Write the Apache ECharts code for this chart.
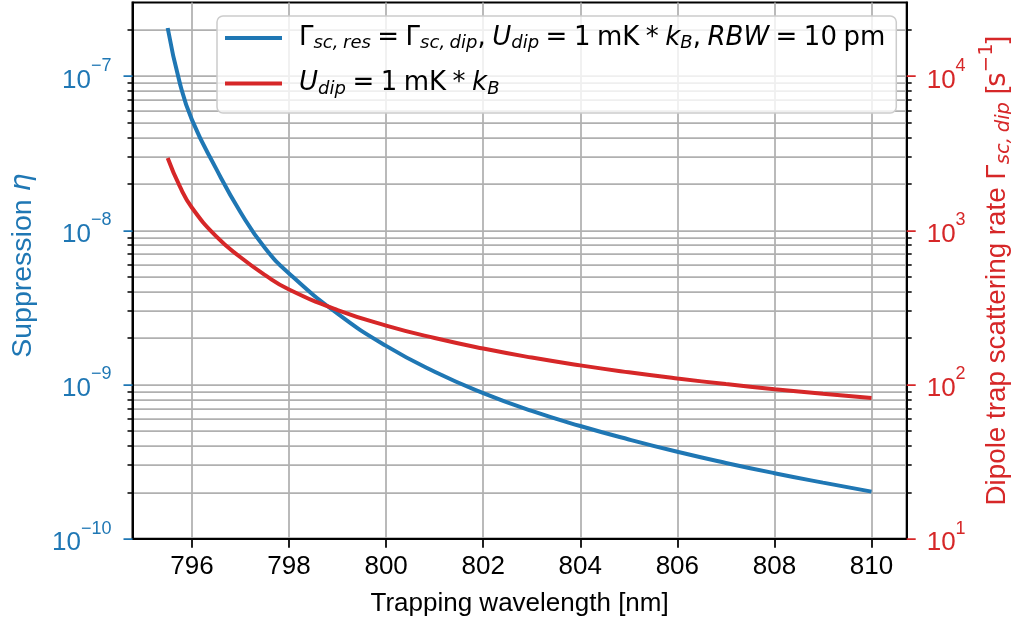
<!DOCTYPE html>
<html>
<head>
<meta charset="utf-8">
<script src="https://cdn.jsdelivr.net/npm/echarts@6/dist/echarts.min.js"></script>
<style>
  html, body { margin: 0; padding: 0; background: #ffffff; }
  #chart { width: 1011px; height: 624px; }
</style>
</head>
<body>
<div id="chart"></div>
<script>
// Trapping wavelength [nm]
const wavelength = [795.5, 795.75, 796, 796.5, 797, 797.5, 798, 799, 800, 801, 802, 803, 804, 805, 806, 807, 808, 809, 810];
// Suppression eta (left axis)
const suppression = [2.05e-7, 9.0e-8, 5.2e-8, 2.5e-8, 1.31e-8, 7.7e-9, 5.25e-9, 2.88e-9, 1.78e-9, 1.21e-9, 8.8e-10, 6.74e-10, 5.38e-10, 4.40e-10, 3.66e-10, 3.10e-10, 2.66e-10, 2.31e-10, 2.02e-10];
// Dipole trap scattering rate [1/s] (right axis)
const scatterRate = [2940, 1923, 1400, 912, 668, 514, 413, 304, 241, 200, 171, 149.5, 133, 120, 109.4, 100.6, 93.2, 87.0, 81.7];

const xTicks = [796, 798, 800, 802, 804, 806, 808, 810];
const leftDecades = [1e-10, 1e-9, 1e-8, 1e-7];
const rightDecades = [1e1, 1e2, 1e3, 1e4];
const seriesNames = ['suppression', 'rate'];

const BLUE = '#1f77b4';
const RED = '#d62728';
const GRID = '#b0b0b0';
const SANS = 'Liberation Sans';
const MATH = 'DejaVu Sans';

const X_MIN = 794.775, X_MAX = 810.725;
const L_MIN = 1e-10, L_MAX = 3e-7;
const R_MIN = 1e1, R_MAX = 3e4;

// minor log ticks 2..9 within each decade
function minorValues(decades, max) {
  const out = [];
  decades.forEach(d => {
    for (let m = 2; m <= 9; m++) {
      const v = m * d;
      if (v < max * 0.99) out.push(v);
    }
  });
  return out;
}
const nudge = arr => arr.map(v => v * 1.0000001);

function powLabel(v) {
  const e = Math.round(Math.log10(v));
  const s = e < 0 ? '\u2212' + (-e) : String(e);
  return '{b|10}{s|' + s + '}';
}
function powRich(color) {
  return {
    b: { fontFamily: SANS, fontSize: 26, color: color, padding: [9, 0, 0, 0] },
    s: { fontFamily: SANS, fontSize: 18, color: color, padding: [0, 0, 20, 0] }
  };
}

// math spacing
const SP = '\u2005';
const legendText = {
  suppression: '{sp| }{r|\u0393}{sub|sc,' + SP + 'res}{r|' + SP + '=' + SP + '\u0393}{sub|sc,' + SP + 'dip}{r|,' + SP + '}{i|U}{sub|dip}{r|' + SP + '=' + SP + '1' + SP + 'mK' + SP + '*' + SP + '}{i|k}{sub|B}{r|,' + SP + '}{i|RBW}{r|' + SP + '=' + SP + '10' + SP + 'pm}',
  rate: '{sp| }{i|U}{sub|dip}{r|' + SP + '=' + SP + '1' + SP + 'mK' + SP + '*' + SP + '}{i|k}{sub|B}'
};

const chart = echarts.init(document.getElementById('chart'), null, { renderer: 'canvas' });

const tickStyle = (color) => ({ show: true, inside: false, length: 9, lineStyle: { color: color, width: 1.75 } });

chart.setOption({
  animation: false,
  backgroundColor: '#ffffff',
  grid: {
    left: 132.5, right: 104.3, top: 2.5, bottom: 85.3,
    outerBoundsMode: 'none', containLabel: false,
    show: true, borderColor: '#000000', borderWidth: 2, backgroundColor: 'transparent'
  },
  legend: {
    data: seriesNames,
    orient: 'vertical',
    left: 217, top: 16,
    icon: 'rect', itemWidth: 57, itemHeight: 4, itemGap: 18,
    padding: [9, 11, 15, 8],
    backgroundColor: 'rgba(255,255,255,0.8)',
    borderColor: '#cccccc', borderWidth: 1.5, borderRadius: 6,
    selectedMode: false,
    formatter: name => legendText[name],
    textStyle: {
      color: '#000000', fontFamily: MATH, fontSize: 26,
      rich: {
        sp: { fontFamily: MATH, fontSize: 26, width: 12 },
        r: { fontFamily: MATH, fontSize: 26, color: '#000000' },
        i: { fontFamily: MATH, fontSize: 26, fontStyle: 'italic', color: '#000000' },
        sub: { fontFamily: MATH, fontSize: 18, fontStyle: 'italic', color: '#000000', padding: [11, 0, 0, 0] }
      }
    }
  },
  xAxis: {
    type: 'value', min: X_MIN, max: X_MAX,
    name: 'Trapping wavelength [nm]', nameLocation: 'middle', nameGap: 52,
    nameTextStyle: { fontFamily: SANS, fontSize: 26, color: '#000000' },
    axisLine: { show: true, onZero: false, lineStyle: { color: '#000000', width: 2 } },
    axisTick: Object.assign(tickStyle('#000000'), { customValues: xTicks }),
    axisLabel: { customValues: xTicks, margin: 15, fontFamily: SANS, fontSize: 26, color: '#000000', formatter: v => String(Math.round(v)) },
    splitLine: { show: true, lineStyle: { color: GRID, width: 1.75 } }
  },
  yAxis: [
    {
      type: 'log', logBase: 10, min: L_MIN, max: L_MAX, position: 'left',
      name: '{t|Suppression }{g|\u03b7}', nameLocation: 'middle', nameRotate: 90, nameGap: 95,
      nameTextStyle: {
        color: BLUE,
        rich: {
          t: { fontFamily: SANS, fontSize: 28.5, color: BLUE, padding: [0, 0, 0, 10] },
          g: { fontFamily: MATH, fontSize: 28.5, fontStyle: 'italic', color: BLUE }
        }
      },
      axisLine: { show: true, lineStyle: { color: '#000000', width: 2 } },
      axisTick: Object.assign(tickStyle(BLUE), { customValues: nudge(leftDecades) }),
      axisLabel: { customValues: nudge(leftDecades), margin: 21, formatter: powLabel, rich: powRich(BLUE) },
      splitLine: { show: true, lineStyle: { color: GRID, width: 1.75 } }
    },
    {
      type: 'log', logBase: 10, min: R_MIN, max: R_MAX, position: 'right',
      name: '{t|Dipole trap scattering rate \u0393}{sub|sc,' + SP + 'dip}{t| [}{m|s}{sup|\u22121}{t|]}',
      nameLocation: 'middle', nameRotate: 90, nameGap: 64,
      nameTextStyle: {
        color: RED,
        rich: {
          t: { fontFamily: SANS, fontSize: 27.8, color: RED },
          m: { fontFamily: MATH, fontSize: 27.8, color: RED },
          sub: { fontFamily: MATH, fontSize: 19.5, fontStyle: 'italic', color: RED, padding: [12, 0, 0, 0] },
          sup: { fontFamily: MATH, fontSize: 19.5, color: RED, padding: [0, 0, 22, 0] }
        }
      },
      axisLine: { show: true, lineStyle: { color: '#000000', width: 2 } },
      axisTick: Object.assign(tickStyle(RED), { customValues: nudge(rightDecades) }),
      axisLabel: { customValues: nudge(rightDecades), margin: 20, formatter: powLabel, rich: powRich(RED) },
      splitLine: { show: false }
    },
    {
      // minor ticks and minor grid on the left
      type: 'log', logBase: 10, min: L_MIN, max: L_MAX, position: 'left',
      axisLine: { show: false },
      axisTick: { show: true, inside: false, length: 5, lineStyle: { color: '#000000', width: 1.5 }, customValues: minorValues(leftDecades, L_MAX) },
      axisLabel: { show: false },
      splitLine: { show: true, lineStyle: { color: GRID, width: 1.75 } }
    },
    {
      // minor ticks on the right
      type: 'log', logBase: 10, min: R_MIN, max: R_MAX, position: 'right',
      axisLine: { show: false },
      axisTick: { show: true, inside: false, length: 5, lineStyle: { color: '#000000', width: 1.5 }, customValues: minorValues(rightDecades, R_MAX) },
      axisLabel: { show: false },
      splitLine: { show: false }
    }
  ],
  series: [
    {
      name: seriesNames[0], type: 'line', yAxisIndex: 0,
      data: wavelength.map((x, i) => [x, suppression[i]]),
      showSymbol: false, smooth: 0.5,
      lineStyle: { color: BLUE, width: 4 }, itemStyle: { color: BLUE }, z: 3
    },
    {
      name: seriesNames[1], type: 'line', yAxisIndex: 1,
      data: wavelength.map((x, i) => [x, scatterRate[i]]),
      showSymbol: false, smooth: 0.5,
      lineStyle: { color: RED, width: 4 }, itemStyle: { color: RED }, z: 4
    }
  ]
});
</script>
</body>
</html>
